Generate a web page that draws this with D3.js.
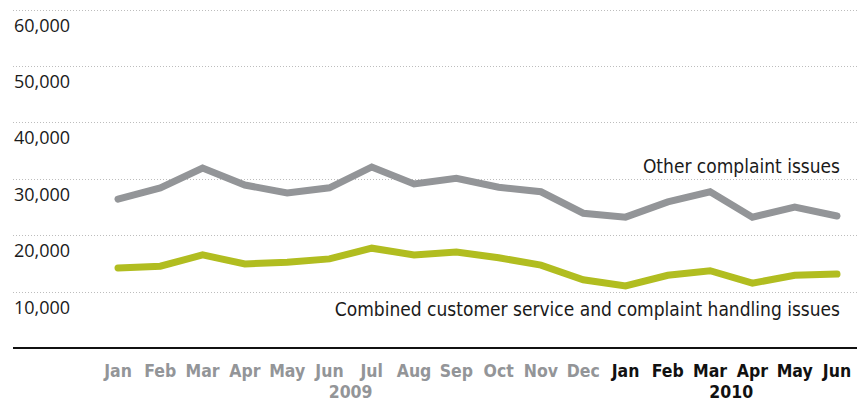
<html>
<head>
<meta charset="UTF-8">
<script src="https://d3js.org/d3.v7.min.js"></script>
<style>
  body { margin: 0; background: #fff; }
  .grid line { stroke: #bdbdbd; stroke-width: 1px; stroke-dasharray: 1,2; }
  .ylab { font-family: "Open Sans", sans-serif; font-size: 18px; fill: #1a1a1a; }
  .xlab { font-family: "DejaVu Sans Condensed", "Liberation Sans Narrow", sans-serif; font-weight: bold; font-size: 17.5px; }
  .serieslab { font-family: "DejaVu Sans Condensed", "Liberation Sans Narrow", sans-serif; font-size: 19px; fill: #1a1a1a; }
</style>
</head>
<body>
<svg id="chart" width="867" height="403"></svg>
<script>
// data
const months = ["Jan","Feb","Mar","Apr","May","Jun","Jul","Aug","Sep","Oct","Nov","Dec",
                "Jan","Feb","Mar","Apr","May","Jun"];
const years = [{label: "2009", from: 5, to: 6}, {label: "2010", from: 14, to: 15}];
const otherIssues = [26400, 28400, 31900, 28900, 27500, 28400, 32100, 29100, 30100, 28500, 27700, 23900,
                     23200, 25900, 27700, 23200, 25000, 23400];
const serviceIssues = [14200, 14500, 16500, 14900, 15200, 15800, 17700, 16500, 17000, 16000, 14700, 12100,
                       11000, 12900, 13700, 11500, 12900, 13100];
const yTicks = [10000, 20000, 30000, 40000, 50000, 60000];

const svg = d3.select('#chart');

const x = d3.scalePoint().domain(d3.range(months.length)).range([118, 837]);
const y = d3.scaleLinear().domain([0, 60000]).range([348, 9.6]);

//dotted gridlines
svg.append('g').attr('class', 'grid')
   .selectAll('line').data(yTicks).join('line')
   .attr('x1', 13).attr('x2', 857)
   .attr('y1', d => Math.round(y(d)) + 0.5)
   .attr('y2', d => Math.round(y(d)) + 0.5);

//y labels under each gridline
svg.selectAll('text.ylab').data(yTicks).join('text')
   .attr('class', 'ylab')
   .attr('x', 14)
   .attr('y', d => y(d) + 22)
   .text(d3.format(','));

//baseline
svg.append('line')
   .attr('x1', 13).attr('x2', 857)
   .attr('y1', y(0)).attr('y2', y(0))
   .attr('stroke', '#111').attr('stroke-width', 2);

const line = d3.line().x((d, i) => x(i)).y(d => y(d));

svg.append('path').datum(otherIssues)
   .attr('d', line)
   .attr('fill', 'none').attr('stroke', '#939598')
   .attr('stroke-width', 7).attr('stroke-linejoin', 'miter').attr('stroke-linecap', 'round');

svg.append('path').datum(serviceIssues)
   .attr('d', line)
   .attr('fill', 'none').attr('stroke', '#b1bd20')
   .attr('stroke-width', 7).attr('stroke-linejoin', 'miter').attr('stroke-linecap', 'round');

//series labels
svg.append('text').attr('class', 'serieslab')
   .attr('x', 840).attr('y', 173).attr('text-anchor', 'end')
   .text('Other complaint issues');
svg.append('text').attr('class', 'serieslab')
   .attr('x', 840).attr('y', 316).attr('text-anchor', 'end')
   .text('Combined customer service and complaint handling issues');

//month labels
svg.selectAll('text.xlab').data(months).join('text')
   .attr('class', 'xlab')
   .attr('x', (d, i) => x(i))
   .attr('y', 377)
   .attr('text-anchor', 'middle')
   .attr('fill', (d, i) => i < 12 ? '#939598' : '#111')
   .text(d => d);

svg.selectAll('text.year').data(years).join('text')
   .attr('class', 'xlab year')
   .attr('x', d => (x(d.from) + x(d.to)) / 2)
   .attr('y', 398)
   .attr('text-anchor', 'middle')
   .attr('fill', (d, i) => i === 0 ? '#939598' : '#111')
   .text(d => d.label);
</script>
</body>
</html>
